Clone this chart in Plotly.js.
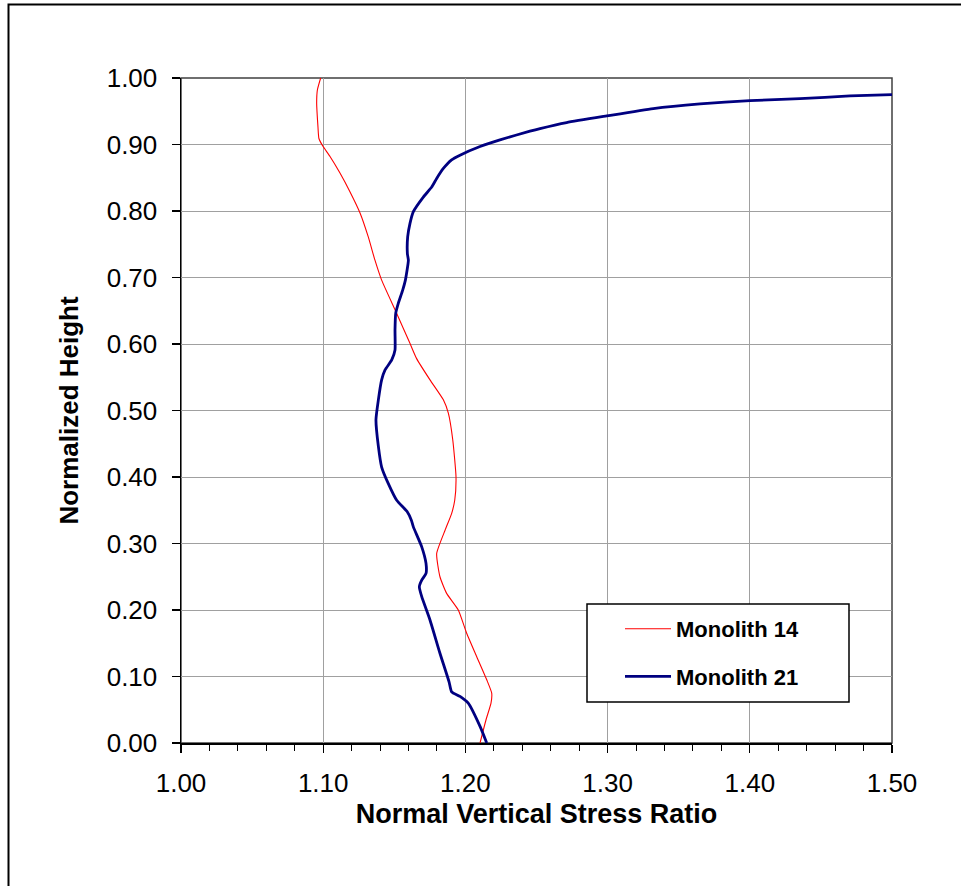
<!DOCTYPE html>
<html>
<head>
<meta charset="utf-8">
<script src="https://cdn.plot.ly/plotly-3.0.1.min.js"></script>
<style>
  html, body { margin: 0; padding: 0; background: #ffffff; }
  #chart { width: 961px; height: 886px; }
</style>
</head>
<body>
<div id="chart"></div>
<script>
// Normalized height (y) and stress ratio (x) for each monolith
const heights14 = [0.000, 0.035, 0.060, 0.075, 0.095, 0.130, 0.165, 0.200, 0.225, 0.250, 0.285, 0.320, 0.345, 0.365, 0.400, 0.456, 0.496, 0.516, 0.546, 0.578, 0.601, 0.646, 0.696, 0.726, 0.761, 0.797, 0.829, 0.857, 0.882, 0.898, 0.909, 0.927, 0.962, 0.982, 1.000];
const ratio14   = [1.2103, 1.2145, 1.2180, 1.2185, 1.2150, 1.2079, 1.2009, 1.1950, 1.1868, 1.1821, 1.1798, 1.1857, 1.1903, 1.1925, 1.1934, 1.1911, 1.1880, 1.1845, 1.1751, 1.1657, 1.1610, 1.1517, 1.1411, 1.1364, 1.1317, 1.1259, 1.1188, 1.1118, 1.1048, 1.0996, 1.0970, 1.0963, 1.0954, 1.0959, 1.0982];

const heights21 = [0.000, 0.025, 0.060, 0.070, 0.077, 0.092, 0.135, 0.185, 0.220, 0.235, 0.245, 0.255, 0.270, 0.295, 0.325, 0.335, 0.348, 0.365, 0.390, 0.415, 0.446, 0.486, 0.516, 0.546, 0.561, 0.576, 0.591, 0.621, 0.646, 0.661, 0.681, 0.696, 0.726, 0.736, 0.761, 0.781, 0.799, 0.821, 0.836, 0.849, 0.864, 0.877, 0.884, 0.897, 0.907, 0.920, 0.924, 0.933, 0.943, 0.954, 0.961, 0.966, 0.969, 0.973, 0.975];
const ratio21   = [1.2150, 1.2103, 1.2020, 1.1962, 1.1903, 1.1885, 1.1821, 1.1751, 1.1693, 1.1676, 1.1693, 1.1723, 1.1723, 1.1693, 1.1634, 1.1620, 1.1590, 1.1517, 1.1458, 1.1411, 1.1388, 1.1371, 1.1388, 1.1411, 1.1435, 1.1482, 1.1505, 1.1505, 1.1510, 1.1528, 1.1559, 1.1578, 1.1599, 1.1592, 1.1594, 1.1610, 1.1634, 1.1704, 1.1763, 1.1798, 1.1845, 1.1903, 1.1962, 1.2103, 1.2243, 1.2454, 1.2525, 1.2712, 1.2994, 1.3321, 1.3650, 1.4001, 1.4353, 1.4705, 1.5000];

const seriesNames = ["Monolith 14", "Monolith 21"];
const xTitle = "Normal Vertical Stress Ratio";
const yTitle = "Normalized Height";

const FONT = "Liberation Sans, Arial, sans-serif";

// plot area in pixels: left 181, right 892, top 78, bottom 743
const L = 181, R = 892, T = 78, B = 743;
const pxX = p => (p - L) / (R - L);
const pxY = p => (B - p) / (B - T);

const traces = [
  {
    x: ratio14, y: heights14, name: seriesNames[0], type: "scatter", mode: "lines",
    line: { color: "#ff0000", width: 1.1, shape: "spline", smoothing: 0.5 },
    legendgroup: "a"
  },
  {
    x: ratio21, y: heights21, name: seriesNames[1], type: "scatter", mode: "lines",
    line: { color: "#000080", width: 2.8, shape: "spline", smoothing: 0.5 },
    legendgroup: "b"
  }
];

const layout = {
  width: 961, height: 886,
  margin: { l: L, r: 961 - R, t: T, b: 886 - B, pad: 0 },
  paper_bgcolor: "#ffffff",
  plot_bgcolor: "#ffffff",
  font: { family: FONT, color: "#000000" },
  showlegend: true,
  xaxis: {
    range: [1.0, 1.5], dtick: 0.1, tick0: 1.0, tickformat: ".2f",
    showgrid: true, gridcolor: "#a0a0a0", gridwidth: 1,
    zeroline: false,
    showline: true, linecolor: "#000000", linewidth: 1.5,
    ticks: "outside", ticklen: 8, tickcolor: "#000000", tickwidth: 1.2,
    minor: { dtick: 0.02, ticks: "outside", ticklen: 6, tickcolor: "#000000", tickwidth: 1, showgrid: false },
    tickfont: { family: FONT, size: 26, color: "#000000" },
    ticklabelstandoff: 8,
    title: { text: xTitle, font: { family: FONT, size: 27, weight: "bold", color: "#000000" }, standoff: 7 }
  },
  yaxis: {
    range: [0, 1.0], dtick: 0.1, tick0: 0, tickformat: ".2f",
    showgrid: true, gridcolor: "#a0a0a0", gridwidth: 1,
    zeroline: false,
    showline: true, linecolor: "#000000", linewidth: 1.5,
    ticks: "outside", ticklen: 8, tickcolor: "#000000", tickwidth: 1.2,
    tickfont: { family: FONT, size: 26, color: "#000000" },
    ticklabelstandoff: 9,
    title: { text: yTitle, font: { family: FONT, size: 26, weight: "bold", color: "#000000" }, standoff: 20 }
  },
  legend: {
    x: pxX(620), y: pxY(608), xanchor: "left", yanchor: "top",
    bgcolor: "rgba(0,0,0,0)", borderwidth: 0,
    font: { family: FONT, size: 22, weight: "bold", color: "#000000" },
    tracegroupgap: 16, traceorder: "grouped",
    itemwidth: 46
  },
  shapes: [
    // plot area frame
    { type: "rect", xref: "paper", yref: "paper", x0: 0, x1: 1, y0: 0, y1: 1,
      line: { color: "#404040", width: 1.5 }, layer: "below" },
    // legend frame
    { type: "rect", xref: "paper", yref: "paper", x0: pxX(587), x1: pxX(849), y0: pxY(702), y1: pxY(604),
      line: { color: "#000000", width: 1.5 }, fillcolor: "#ffffff", layer: "above", opacity: 1 },
    // outer chart border
    { type: "rect", xref: "paper", yref: "paper", x0: pxX(8.5), x1: pxX(980), y0: pxY(900), y1: pxY(4.5),
      line: { color: "#000000", width: 2 } }
  ]
};

Plotly.newPlot("chart", traces, layout, { displayModeBar: false, staticPlot: true });
</script>
</body>
</html>
